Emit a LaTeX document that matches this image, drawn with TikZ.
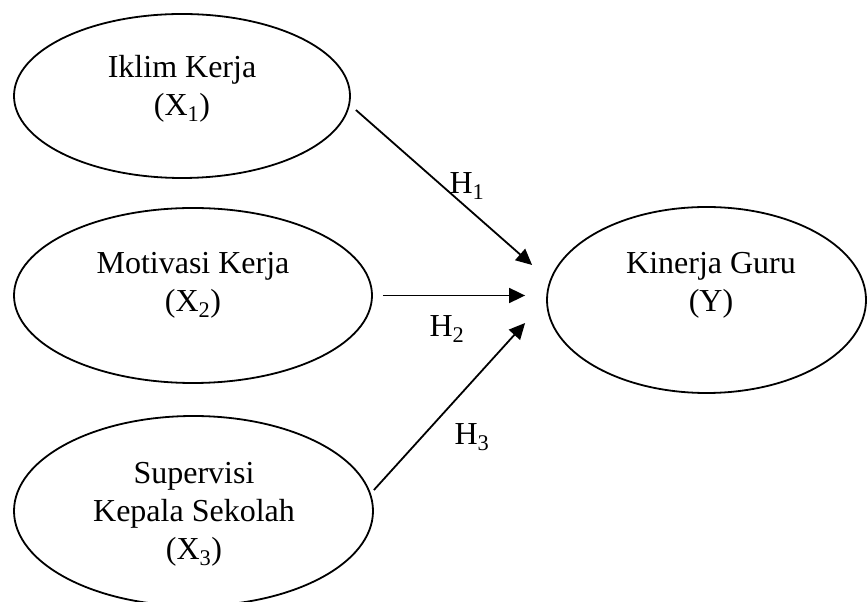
\documentclass[tikz,border=0pt]{standalone}
\usepackage{fontspec}
\setmainfont{Liberation Serif}
\usetikzlibrary{arrows.meta,shapes.geometric}
\begin{document}
\begin{tikzpicture}[x=1pt,y=1pt,
  ell/.style={draw=black,line width=1.8pt,ellipse,inner sep=0pt},
  txt/.style={align=center,font=\fontsize{32}{38}\selectfont,inner sep=0pt},
  hlab/.style={font=\fontsize{32}{38}\selectfont,inner sep=0pt},
  arr/.style={line width=1.8pt,-{Triangle[length=16pt,width=15pt]}}]
\useasboundingbox[fill=white] (0,0) rectangle (867,602);
\node[ell,minimum width=336pt,minimum height=164pt] (x1) at (182,506) {};
\node[ell,minimum width=358pt,minimum height=175pt] (x2) at (193,306.5) {};
\node[ell,minimum width=359pt,minimum height=190pt] (x3) at (193.5,91) {};
\node[ell,minimum width=319pt,minimum height=186pt] (y) at (706.5,302) {};
\node[txt] (t1) at (182,513) {Iklim Kerja\\(X\textsubscript{1})};
\node[txt] (t2) at (193,317) {Motivasi Kerja\\(X\textsubscript{2})};
\node[txt] (t3) at (194,88) {Supervisi\\Kepala Sekolah\\(X\textsubscript{3})};
\node[txt] (t4) at (711,317) {Kinerja Guru\\(Y)};
\coordinate (s1) at ([shift={(5pt,-14pt)}]x1.east);
\coordinate (e1) at ([shift={(-14pt,35pt)}]y.west);
\coordinate (s2) at ([xshift=10pt]x2.east);
\coordinate (e2) at ([xshift=-21pt]y.west |- x2.east);
\coordinate (s3) at ([shift={(0pt,21pt)}]x3.east);
\coordinate (e3) at ([shift={(-21pt,-23pt)}]y.west);
\draw[arr] (s1) -- (e1);
\draw[arr] (s2) -- (e2);
\draw[arr] (s3) -- (e3);
\node[hlab] (h1) at (467,416) {H\textsubscript{1}};
\node[hlab] (h2) at (447,273) {H\textsubscript{2}};
\node[hlab] (h3) at (472,165) {H\textsubscript{3}};
\end{tikzpicture}
\end{document}
